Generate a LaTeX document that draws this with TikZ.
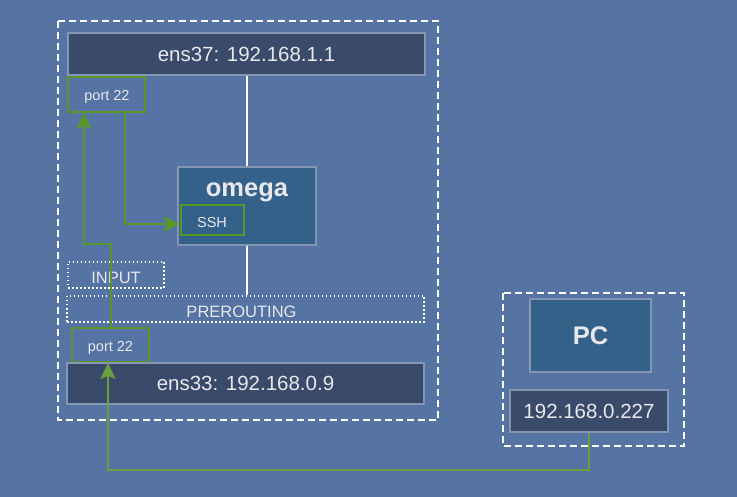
\documentclass[tikz,border=0pt]{standalone}
\usepackage{fontspec}
\setmainfont{Liberation Sans}
\usetikzlibrary{arrows.meta}
\definecolor{bg}{RGB}{85,115,163}
\definecolor{darkbox}{RGB}{58,74,107}
\definecolor{midbox}{RGB}{51,97,137}
\definecolor{edgec}{RGB}{132,150,178}
\definecolor{grn}{RGB}{88,150,40}
\definecolor{grnl}{RGB}{104,160,64}
\definecolor{txt}{RGB}{232,232,236}
\begin{document}
\begin{tikzpicture}[x=1pt,y=-1pt,
  iface/.style={draw=edgec,line width=1.5pt,fill=darkbox,text=txt,font=\fontsize{20.5}{24}\selectfont,inner sep=0pt},
  hostbox/.style={draw=edgec,line width=1.5pt,fill=midbox,inner sep=0pt},
  portbox/.style={draw=grn,line width=1.8pt,inner sep=0pt},
  smalltext/.style={text=txt,font=\fontsize{14.5}{16}\selectfont,inner sep=0pt},
  chain/.style={draw=white,line width=1.2pt,dash pattern=on 1.5pt off 2.5pt,inner sep=0pt},
  chaintext/.style={text=txt,font=\fontsize{16.5}{18}\selectfont,inner sep=0pt},
  frame/.style={draw=white,line width=1.5pt,dash pattern=on 7pt off 4pt},
  flow/.style={draw=grnl,line width=1.8pt,-{Stealth[length=16pt,width=15pt,inset=3pt]}},
  title/.style={text=txt,font=\bfseries\fontsize{25.5}{30}\selectfont,inner sep=0pt}]
\useasboundingbox[fill=bg] (0,0) rectangle (737,497);
\draw[frame] (58,21) rectangle (438,420);
\draw[frame] (503,293) rectangle (684,446);
\node[iface,minimum width=357pt,minimum height=42pt] (ens37) at (246.5,54) {ens37: 192.168.1.1};
\node[portbox,minimum width=77pt,minimum height=35pt] (p22t) at (106.5,94.5) {};
\node[smalltext] (p22tt) at (107,97) {port 22};
\node[hostbox,minimum width=138pt,minimum height=78pt] (omega) at (247,206) {};
\node[title] (omegat) at (247,192) {omega};
\node[portbox,minimum width=63pt,minimum height=30pt] (ssh) at (212.5,220) {};
\node[smalltext] (ssht) at (212,223) {SSH};
\node[chain,minimum width=96pt,minimum height=26pt] (input) at (116,275) {};
\node[chaintext] (inputt) at (116,278) {INPUT};
\node[chain,minimum width=357pt,minimum height=26pt] (prer) at (245.5,309) {};
\node[chaintext] (prert) at (241.5,311.5) {PREROUTING};
\node[portbox,minimum width=77pt,minimum height=34pt] (p22b) at (110.5,345) {};
\node[smalltext] (p22bt) at (110.5,348) {port 22};
\node[iface,minimum width=357pt,minimum height=41pt] (ens33) at (245.5,383.5) {ens33: 192.168.0.9};
\node[hostbox,minimum width=121pt,minimum height=73pt] (pc) at (590.5,335.5) {};
\node[title] (pct) at (590.5,335.5) {PC};
\node[iface,minimum width=158pt,minimum height=42pt] (ip) at (589,411) {192.168.0.227};
\draw[white,line width=1.5pt] (ens37.south -| omega.north) -- (omega.north);
\draw[white,line width=1.5pt] (omega.south) -- (omega.south |- prer.north);
\coordinate (c1) at (108,470);
\coordinate (c2) at (111,244);
\coordinate (c3) at (84,244);
\coordinate (c4) at (125,224);
\draw[flow] (ip.south) |- (c1) -- (c1 |- p22b.south);
\draw[flow,draw=grn] (c2 |- p22b.north) -- (c2) -- (c3) -- (c3 |- p22t.south);
\draw[flow,draw=grn] (c4 |- p22t.south) -- (c4) -- (c4 -| ssh.west);
\end{tikzpicture}
\end{document}
